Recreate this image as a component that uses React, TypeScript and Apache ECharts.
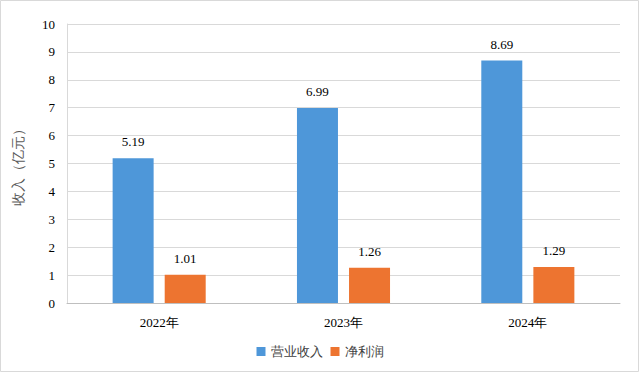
import React, { useEffect, useRef } from "react";
import * as echarts from "echarts";

const categories = ["2022年", "2023年", "2024年"];
const revenue = [5.19, 6.99, 8.69];
const profit = [1.01, 1.26, 1.29];
const seriesNames = ["营业收入", "净利润"];
const yAxisName = "收入（亿元）";

const FONT = "serif";

export default function App() {
  const ref = useRef<HTMLDivElement>(null);
  useEffect(() => {
    document.body.style.margin = "0";
    const chart = echarts.init(ref.current!, null, { renderer: "svg" });
    chart.setOption({
      animation: false,
      backgroundColor: "#fff",
      textStyle: { fontFamily: FONT },
      grid: { left: 67, right: 20, top: 24, bottom: 70, containLabel: false },
      legend: {
        bottom: 10,
        left: "center",
        itemWidth: 9,
        itemHeight: 9,
        itemGap: 8,
        icon: "rect",
        textStyle: { fontSize: 13, color: "#404040", fontFamily: FONT },
        data: seriesNames,
      },
      xAxis: {
        type: "category",
        data: categories,
        axisLine: { lineStyle: { color: "#bfbfbf", width: 1 } },
        axisTick: { show: false },
        axisLabel: { fontSize: 13, color: "#000", margin: 13, fontFamily: FONT },
      },
      yAxis: {
        type: "value",
        min: 0,
        max: 10,
        interval: 1,
        name: yAxisName,
        nameLocation: "middle",
        nameGap: 42,
        nameRotate: 90,
        nameTextStyle: { fontSize: 14, color: "#595959", fontFamily: FONT },
        axisLine: { show: true, lineStyle: { color: "#d9d9d9" } },
        axisTick: { show: false },
        splitLine: { lineStyle: { color: "#d9d9d9" } },
        axisLabel: { fontSize: 13, color: "#000", margin: 12, fontFamily: FONT },
      },
      series: [
        {
          name: seriesNames[0],
          type: "bar",
          data: revenue,
          barWidth: 41,
          barGap: "27%",
          itemStyle: { color: "#4e97d9" },
          label: { show: true, position: "top", distance: 10, fontSize: 13, color: "#000", fontFamily: FONT },
        },
        {
          name: seriesNames[1],
          type: "bar",
          data: profit,
          barWidth: 41,
          barGap: "27%",
          itemStyle: { color: "#ed7430" },
          label: { show: true, position: "top", distance: 10, fontSize: 13, color: "#000", fontFamily: FONT },
        },
      ],
      graphic: [
        {
          type: "rect",
          shape: { x: 0.5, y: 0.5, width: 638, height: 371 },
          style: { fill: "none", stroke: "#d9d9d9", lineWidth: 1 },
          silent: true,
        },
      ],
    });
    return () => chart.dispose();
  }, []);
  return <div ref={ref} style={{ width: 640, height: 373 }} />;
}
